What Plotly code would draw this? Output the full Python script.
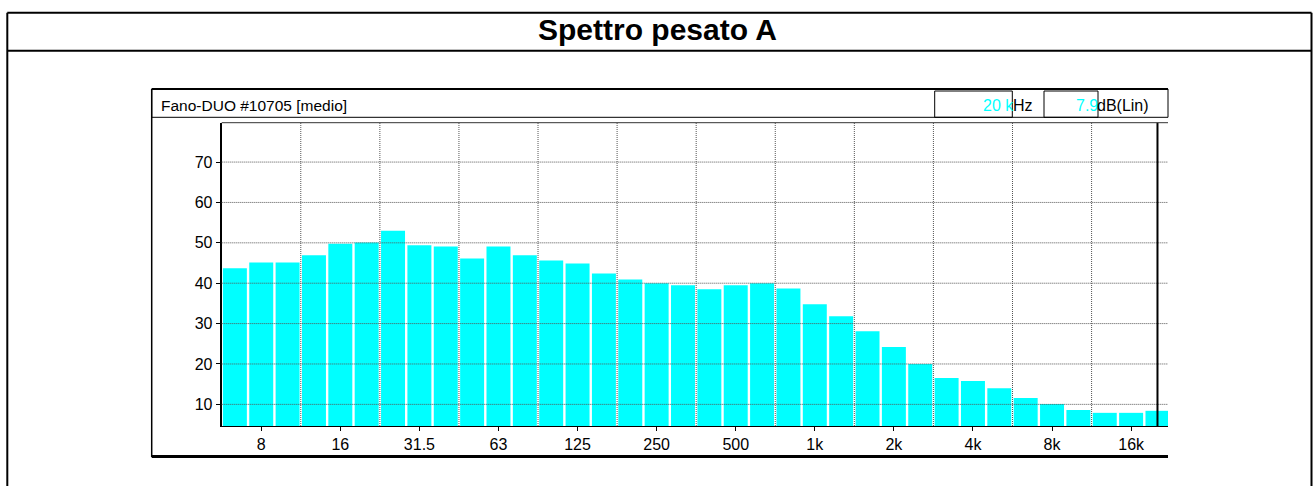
import plotly.graph_objects as go

# ---------------- data ----------------
bands = ["6.3", "8", "10", "12.5", "16", "20", "25", "31.5", "40", "50", "63", "80",
         "100", "125", "160", "200", "250", "315", "400", "500", "630", "800",
         "1k", "1.25k", "1.6k", "2k", "2.5k", "3.15k", "4k", "5k", "6.3k", "8k",
         "10k", "12.5k", "16k", "20k"]
levels_db = [43.7, 45.1, 45.1, 46.9, 49.8, 50.1, 53.0, 49.4, 49.1, 46.1, 49.1, 46.9,
             45.6, 44.9, 42.4, 40.9, 40.0, 39.5, 38.5, 39.5, 40.0, 38.7,
             34.8, 31.8, 28.1, 24.2, 20.0, 16.5, 15.8, 14.0, 11.6, 10.1,
             8.6, 7.9, 7.9, 8.4]
tick_labels = ["8", "16", "31.5", "63", "125", "250", "500", "1k", "2k", "4k", "8k", "16k"]
y_ticks = [10, 20, 30, 40, 50, 60, 70]
cursor_band = "20k"
cursor_freq_text = "20 k"
cursor_level_text = "7.9"
title_text = "Spettro pesato A"
header_text = "Fano-DUO #10705 [medio]"

# ---------------- layout helpers ----------------
W, H = 1313, 486
def px(x):
    return x / W
def py(y):
    return 1 - y / H

x_idx = list(range(len(bands)))
tick_idx = [bands.index(t) for t in tick_labels]
grid_x = [i + 0.5 for i in range(2, len(bands) - 3, 3)]

CYAN = "#00FFFF"
SANS = "Liberation Sans, Arial, sans-serif"
FS = 16

fig = go.Figure()
fig.add_trace(go.Bar(
    x=x_idx, y=levels_db,
    marker=dict(color=CYAN, line=dict(width=0)),
    hoverinfo="skip", showlegend=False,
))

plot_l, plot_r, plot_t, plot_b = 221.7, 1168, 122.7, 426
bw = 26.36

fig.update_layout(
    width=W, height=H,
    margin=dict(l=0, r=0, t=0, b=0),
    paper_bgcolor="white", plot_bgcolor="white",
    bargap=0.09,
    showlegend=False,
    xaxis=dict(
        domain=[px(plot_l), px(plot_r)],
        range=[-0.5, -0.5 + (plot_r - plot_l) / bw],
        tickmode="array", tickvals=tick_idx, ticktext=tick_labels,
        ticks="outside", ticklen=4, tickwidth=1, tickcolor="black",
        showgrid=False, zeroline=False,
        showline=True, linecolor="black", linewidth=1,
        tickfont=dict(family=SANS, size=FS, color="black"),
    ),
    yaxis=dict(
        domain=[py(plot_b), py(plot_t)],
        range=[4.64, 79.75],
        tickmode="array", tickvals=y_ticks,
        ticks="outside", ticklen=4, tickwidth=1, tickcolor="black",
        showgrid=False, zeroline=False,
        showline=True, linecolor="black", linewidth=2,
        tickfont=dict(family=SANS, size=FS, color="black"),
    ),
)

shapes = []
GRID = dict(color="#555555", width=1, dash="1px,1px")
for v in y_ticks:
    shapes.append(dict(type="line", xref="x domain", yref="y", x0=0, x1=1, y0=v, y1=v,
                       line=GRID, layer="above"))
for gx in grid_x:
    shapes.append(dict(type="line", xref="x", yref="y domain", x0=gx, x1=gx, y0=0, y1=1,
                       line=GRID, layer="above"))
ci = bands.index(cursor_band)
shapes.append(dict(type="line", xref="x", yref="y domain", x0=ci, x1=ci, y0=0, y1=1,
                   line=dict(color="black", width=2), layer="above"))

def pline(x0, y0, x1, y1, w=1, c="black"):
    shapes.append(dict(type="line", xref="paper", yref="paper",
                       x0=px(x0), x1=px(x1), y0=py(y0), y1=py(y1),
                       line=dict(color=c, width=w), layer="above"))

def prect(x0, y0, x1, y1, w=1, c="black"):
    shapes.append(dict(type="rect", xref="paper", yref="paper",
                       x0=px(x0), x1=px(x1), y0=py(y0), y1=py(y1),
                       line=dict(color=c, width=w), fillcolor="rgba(0,0,0,0)", layer="above"))

# outer page frame
pline(7.3, 12.7, 1311.5, 12.7, 2)
pline(7.3, 12.7, 7.3, 500, 2)
pline(1311.5, 12.7, 1311.5, 500, 2)
pline(7.3, 50.7, 1311.5, 50.7, 2)
# chart frame
pline(151.7, 89, 151.7, 457, 1.5)
pline(151.7, 456.5, 1168, 456.5, 3)
prect(151.7, 89, 1168, 117.3, 1)
pline(151.7, 89, 1168, 89, 2)
pline(plot_l, plot_t, plot_r, plot_t, 1, "#333333")
# readout boxes
prect(934.7, 91, 1012.3, 117.3, 1)
prect(1044, 91, 1098, 117.3, 1)

fig.update_layout(shapes=shapes)

ann = []
ann.append(dict(text="<b>" + title_text + "</b>", xref="paper", yref="paper",
                x=px(658), y=py(29), xanchor="center", yanchor="middle",
                showarrow=False, font=dict(family=SANS, size=30, color="black")))
ann.append(dict(text=header_text, xref="paper", yref="paper",
                x=px(159), y=py(105.5), xanchor="left", yanchor="middle",
                showarrow=False, font=dict(family=SANS, size=15.5, color="black")))
ann.append(dict(text=cursor_freq_text, xref="paper", yref="paper",
                x=px(1016), y=py(105.5), xanchor="right", yanchor="middle",
                showarrow=False, font=dict(family=SANS, size=FS, color=CYAN)))
ann.append(dict(text="Hz", xref="paper", yref="paper",
                x=px(1011), y=py(105.5), xanchor="left", yanchor="middle",
                showarrow=False, font=dict(family=SANS, size=FS, color="black")))
ann.append(dict(text=cursor_level_text, xref="paper", yref="paper",
                x=px(1100), y=py(105.5), xanchor="right", yanchor="middle",
                showarrow=False, font=dict(family=SANS, size=FS, color=CYAN)))
ann.append(dict(text="dB(Lin)", xref="paper", yref="paper",
                x=px(1095), y=py(105.5), xanchor="left", yanchor="middle",
                showarrow=False, font=dict(family=SANS, size=FS, color="black")))
fig.update_layout(annotations=ann)

fig.write_html("out.html", config={"displayModeBar": False},
               post_script="document.body.style.margin='0';document.body.style.overflow='hidden';")
